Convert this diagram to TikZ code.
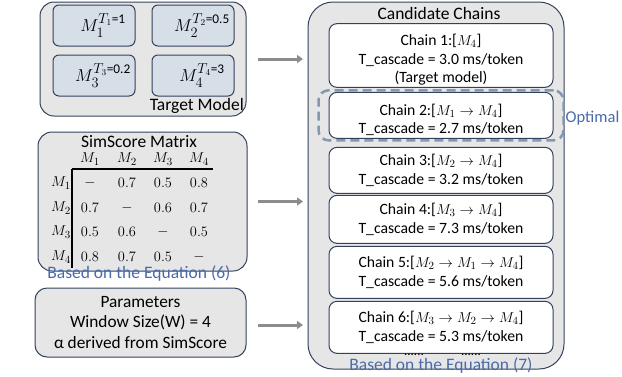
\documentclass[tikz,border=0pt]{standalone}
\usepackage{amsmath}
\usepackage{fontspec}
\setmainfont{Carlito}
\usetikzlibrary{arrows.meta,positioning,fit,backgrounds}
\definecolor{framenavy}{HTML}{33425C}
\definecolor{panelgray}{HTML}{E6E6E6}
\definecolor{modelfill}{HTML}{D6DEE8}
\definecolor{noteblue}{HTML}{4A6AA8}
\definecolor{optdash}{HTML}{8497B0}
\definecolor{arrowgray}{HTML}{8C8C8C}
\newcommand{\chainfont}{\fontsize{15.7}{18.5}\selectfont}
\newcommand{\topstrut}{\rule{0pt}{20pt}}
\tikzset{
  panel/.style={rectangle, rounded corners=14pt, draw=framenavy, fill=panelgray,
                line width=1pt, inner sep=0pt, outer sep=0pt},
  modelbox/.style={rectangle, rounded corners=6pt, draw=framenavy, fill=modelfill,
                   line width=1pt, minimum width=82pt, minimum height=41pt,
                   inner sep=0pt, font=\fontsize{19}{22}\selectfont,
                   execute at begin node=\hspace*{18pt}},
  chainbox/.style={rectangle, rounded corners=8pt, draw=framenavy, fill=white,
                   line width=1pt, align=center, minimum width=224pt,
                   inner sep=2pt, outer sep=0pt, font=\chainfont},
  flow/.style={-{Triangle[length=6pt,width=8pt]}, draw=arrowgray, line width=3pt},
  note/.style={text=noteblue, font=\fontsize{17.5}{20}\selectfont, inner sep=0pt},
}

\begin{document}
\begin{tikzpicture}[
  x=1pt, y=-1pt,
  cell/.style={inner sep=0pt, font=\fontsize{15.5}{17}\selectfont},
  gridline/.style={draw=black, line width=2pt},
  title/.style={font=\fontsize{17.5}{20}\selectfont, inner sep=0pt}
]
\useasboundingbox (0,0) rectangle (622,376);

% left column
\node[panel, minimum width=206pt, minimum height=114pt] (target) at (143,59) {};
\node[modelbox] (m1) at (94,25.5) {$M_1^{T_1\text{=1}}$};
\node[modelbox] (m2) at (193,25.5) {$M_2^{T_2\text{=0.5}}$};
\node[modelbox] (m3) at (94,75.5) {$M_3^{T_3\text{=0.2}}$};
\node[modelbox] (m4) at (193,75.5) {$M_4^{T_4\text{=3}}$};
\node[title, anchor=east] (targetlbl) at (244,106) {Target Model};

\node[panel, minimum width=209pt, minimum height=139pt] (sim) at (142.5,201.5) {};
\node[title] (simlbl) at (139,142) {SimScore Matrix};
\foreach \j/\x in {1/90,2/127,3/163,4/199}
  \node[cell] (col\j) at (\x,159) {$M_\j$};
\foreach \i/\y in {1/183,2/208,3/232,4/257}
  \node[cell] (row\i) at (61,\y) {$M_\i$};
\foreach \i/\va/\vb/\vc/\vd in {1/-/0.7/0.5/0.8, 2/0.7/-/0.6/0.7,
                                3/0.5/0.6/-/0.5, 4/0.8/0.7/0.5/-}
  \foreach \j/\v in {1/\va,2/\vb,3/\vc,4/\vd}
    \node[cell] (v\i\j) at (col\j |- row\i) {$\v$};
\coordinate (corner) at (72,169);
\draw[gridline] (corner) -- ++(141,0);
\draw[gridline] (corner) -- ++(0,99);
\node[note] (eq6) at (139,274) {Based on the Equation (6)};

\node[panel, rounded corners=12pt, minimum width=211pt, minimum height=69pt,
      align=center, font=\fontsize{17.3}{20.5}\selectfont] (param) at (140.5,322.5)
  {Parameters\\Window Size(W) = 4\\α derived from SimScore};

% right column
\node[panel, rounded corners=25pt, minimum width=256pt, minimum height=367pt] (cand) at (436,185.5) {};
\node[title] (candlbl) at (439,13) {Candidate Chains};

\node[chainbox, minimum height=63pt] (chain1) at (441,55.5)
  {\topstrut Chain 1:[$M_4$]\\T\_cascade = 3.0 ms/token\\(Target model)};
\node[chainbox, minimum height=46pt] (chain2) [below=5pt of chain1]
  {\topstrut Chain 2:[$M_1\rightarrow M_4$]\\T\_cascade = 2.7 ms/token};
\node[chainbox, minimum height=46pt] (chain3) [below=9pt of chain2]
  {Chain 3:[$M_2\rightarrow M_4$]\\T\_cascade = 3.2 ms/token};
\node[chainbox, minimum height=48pt] (chain4) [below=2pt of chain3]
  {Chain 4:[$M_3\rightarrow M_4$]\\T\_cascade = 7.3 ms/token};
\node[chainbox, minimum height=52pt] (chain5) [below=3pt of chain4]
  {Chain 5:[$M_2\rightarrow M_1\rightarrow M_4$]\\T\_cascade = 5.6 ms/token};
\node[chainbox, minimum height=52pt] (chain6) [below=3pt of chain5]
  {Chain 6:[$M_3\rightarrow M_2\rightarrow M_4$]\\T\_cascade = 5.3 ms/token};

\node[draw=optdash, line width=2.5pt, dash pattern=on 9pt off 5pt, rounded corners=10pt,
      fit=(chain2), inner xsep=10.5pt, inner ysep=2pt, outer sep=0pt] (optbox) {};
\node[note, anchor=west, font=\fontsize{16.5}{18}\selectfont] (optlbl)
  at ([xshift=2pt,yshift=-3pt]optbox.east) {Optimal};

\node[inner sep=0pt, anchor=base, font=\fontsize{13}{14}\selectfont] (dotsa) at (414,355) {......};
\node[inner sep=0pt, anchor=base, font=\fontsize{13}{14}\selectfont] (dotsb) at (471,355) {......};
\node[note] (eq7) at (441,365.5) {Based on the Equation (7)};

% connectors
\draw[flow, shorten <=12pt, shorten >=5pt] (target.east) -- (target.east -| cand.west);
\draw[flow, shorten <=11pt, shorten >=5pt] (sim.east) -- (sim.east -| cand.west);
\draw[flow, shorten <=12pt, shorten >=5pt] ([yshift=-2.5pt]param.east) -- ([yshift=-2.5pt]param.east -| cand.west);
\end{tikzpicture}
\end{document}
